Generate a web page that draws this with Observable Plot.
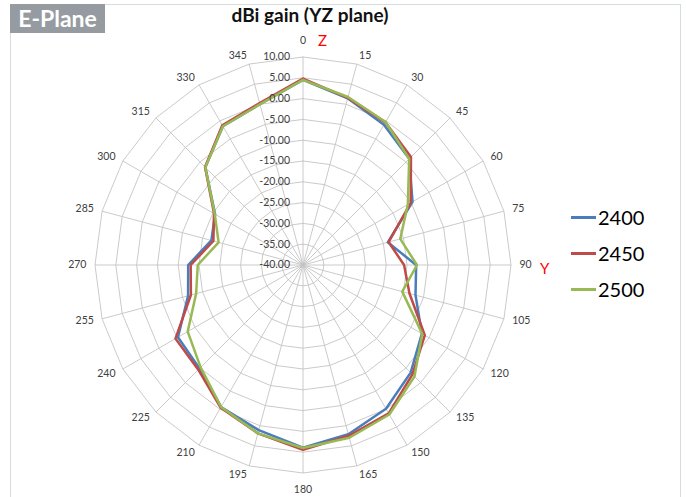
<!DOCTYPE html>
<html><head><meta charset="utf-8">
<script src="https://cdn.jsdelivr.net/npm/d3@7"></script>
<script src="https://cdn.jsdelivr.net/npm/@observablehq/plot@0.6"></script>
<style>
html,body{margin:0;padding:0;background:#fff;}
#wrap{position:relative;width:686px;height:497px;overflow:hidden;font-family:Lato,"Open Sans","DejaVu Sans",sans-serif;}
#frame{position:absolute;left:10px;top:4px;width:671px;height:520px;border:1px solid #d5dcdc;box-sizing:border-box;}
#badge{position:absolute;left:10px;top:4px;width:95px;height:29px;background:#969aa1;color:#fff;font-weight:700;font-size:23px;line-height:29px;text-align:center;}
#title{position:absolute;left:160px;width:300px;top:4px;line-height:22px;text-align:center;font-weight:700;font-size:19px;color:#111;}
#chart{position:absolute;left:0;top:0;}
.axisname{position:absolute;color:#ff0000;font-size:15px;line-height:18px;}
#legend{position:absolute;left:571px;top:205px;}
.item{display:flex;align-items:center;height:24px;margin-bottom:12px;}
.swatch{width:25px;height:3px;margin-right:2px;}
.lab{font-size:20px;color:#000;line-height:24px;}
</style>
</head><body>
<div id="wrap">
  <div id="frame"></div>
  <div id="badge">E-Plane</div>
  <div id="title">dBi gain (YZ plane)</div>
  <div id="chart"></div>
  <div class="axisname" style="left:318px;top:31px;">Z</div>
  <div class="axisname" style="left:540px;top:259px;">Y</div>
  <div id="legend"></div>
</div>
<script>
// ---- data ----
const angles = [0,15,30,45,60,75,90,105,120,135,150,165,180,195,210,225,240,255,270,285,300,315,330,345];
const angleLabels = ["0","15","30","45","60","75","90","105","120","135","150","165","180","195","210","225","240","255","270","285","300","315","330","345"];
const ringTicks = [10,5,0,-5,-10,-15,-20,-25,-30,-35,-40];
const freqs = ["2400","2450","2500"];
const colors = ["#4a7ebb","#be4b48","#98b954"];
const gain2400 = [4.5,1.5,-1.1,-3.9,-9.6,-18.9,-12.8,-12.0,-7.0,-3.4,-0.1,2.1,3.9,1.1,-0.6,-4.8,-5.3,-11.4,-12.4,-17.2,-15.6,-6.8,-1.5,0.0];
const gain2450 = [4.8,1.6,-0.4,-3.3,-10.1,-18.7,-15.7,-13.5,-6.2,-2.8,1.2,2.5,4.4,1.9,-0.4,-4.4,-4.6,-12.1,-13.0,-17.7,-15.3,-6.7,-1.2,0.3];
const gain2500 = [4.5,1.8,-0.3,-3.9,-10.9,-15.8,-12.6,-15.3,-6.9,-2.1,1.5,3.0,4.0,1.9,-0.6,-5.2,-8.0,-13.4,-14.7,-19.0,-15.5,-6.8,-1.5,0.0];

// ---- polar mapping (radius in degrees around the pole) ----
const rad = d3.scaleLinear().domain([-40, 10]).range([0, 1]);
const lon = a => 180 - a;
const lat = v => 90 - rad(v);
const R = rad(10);

const series = [gain2400, gain2450, gain2500];
const rows = freqs.flatMap((f, i) =>
  [...angles, angles[0]].map((a, j) => ({freq: f, angle: a, value: series[i][j % angles.length]})));
const ringRows = ringTicks.filter(v => v > -40).flatMap(v =>
  [...angles, 360].map(a => ({v, a})));
const labelRows = angles.map((a, i) => ({a, label: angleLabels[i]}));
const labR = R * 1.041, labRaxis = R * 1.079;
const grid = "#c4c4c4";

const chart = Plot.plot({
  width: 686, height: 497,
  marginLeft: 94.5, marginRight: 175.5, marginTop: 56.5, marginBottom: 24.5,
  projection: {
    type: "azimuthal-equidistant",
    rotate: [0, -90],
    clip: false,
    domain: {type: "MultiPoint", coordinates: [[0, 90 - R], [90, 90 - R], [180, 90 - R], [-90, 90 - R]]}
  },
  color: {domain: freqs, range: colors},
  style: {fontFamily: "Lato, 'Open Sans', sans-serif", background: "transparent", overflow: "visible", color: "#404040"},
  marks: [
    Plot.line(ringRows, {x: d => lon(d.a), y: d => lat(d.v), z: "v", stroke: grid, strokeWidth: 0.9, clip: false}),
    Plot.link(angles, {x1: a => lon(a), y1: 90, x2: a => lon(a), y2: lat(10), stroke: grid, strokeWidth: 0.9, clip: false}),
    Plot.line(rows, {x: d => lon(d.angle), y: d => lat(d.value), z: "freq", stroke: "freq", strokeWidth: 2.5, clip: false}),
    Plot.text(ringTicks, {x: lon(0), y: v => lat(v), text: v => v.toFixed(2), textAnchor: "end", dx: -13, fontSize: 10.5, fill: "#404040", clip: false}),
    Plot.text(labelRows.filter(d => d.a > 0 && d.a < 180), {x: d => lon(d.a), y: 90 - labR, text: "label", textAnchor: "start", fontSize: 10.5, fill: "#404040", clip: false}),
    Plot.text(labelRows.filter(d => d.a > 180), {x: d => lon(d.a), y: 90 - labR, text: "label", textAnchor: "end", fontSize: 10.5, fill: "#404040", clip: false}),
    Plot.text(labelRows.filter(d => d.a === 0 || d.a === 180), {x: d => lon(d.a), y: 90 - labRaxis, text: "label", textAnchor: "middle", fontSize: 10.5, fill: "#404040", clip: false})
  ]
});
document.getElementById("chart").appendChild(chart);

const legend = document.getElementById("legend");
freqs.forEach((f, i) => {
  const it = document.createElement("div");
  it.className = "item";
  it.innerHTML = `<div class="swatch" style="background:${colors[i]}"></div><div class="lab">${f}</div>`;
  legend.appendChild(it);
});
</script>
</body></html>
